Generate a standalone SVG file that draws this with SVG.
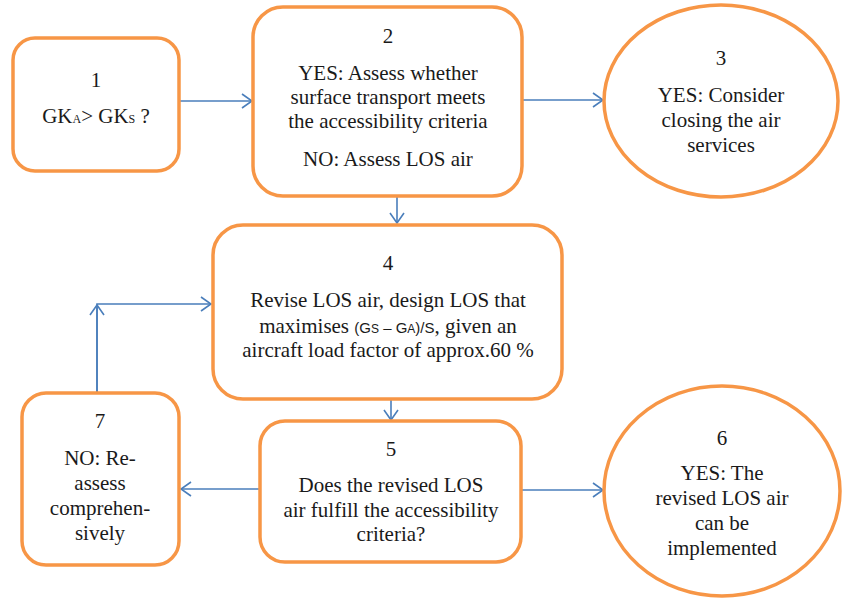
<svg xmlns="http://www.w3.org/2000/svg" width="842" height="599" viewBox="0 0 842 599">
<style>
.node{fill:#fff;stroke:#F79646;stroke-width:3.5}
.t{font-family:'Liberation Serif','Times New Roman',serif;font-size:21px;fill:#1a1a1a;text-anchor:middle}
.s{font-family:'Liberation Sans','Open Sans',Arial,sans-serif;font-size:15px}
.sub{font-size:12px}
.c{fill:none;stroke:#4A7EBB;stroke-width:1.6}
</style>
<defs>
<marker id="ah" markerUnits="userSpaceOnUse" viewBox="0 0 12 16" refX="11" refY="8" markerWidth="12" markerHeight="16" orient="auto">
<path d="M1,1 L11,8 L1,15" fill="none" stroke="#4A7EBB" stroke-width="1.6"/>
</marker>
</defs>
<g id="connectors">
<line class="c" x1="179" y1="101" x2="252" y2="101" marker-end="url(#ah)"/>
<line class="c" x1="522" y1="100" x2="603" y2="100" marker-end="url(#ah)"/>
<line class="c" x1="397" y1="196" x2="397" y2="223" marker-end="url(#ah)"/>
<line class="c" x1="391" y1="399" x2="391" y2="420" marker-end="url(#ah)"/>
<line class="c" x1="521" y1="490" x2="603" y2="490" marker-end="url(#ah)"/>
<line class="c" x1="260" y1="489" x2="181" y2="489" marker-end="url(#ah)"/>
<polyline class="c" points="97,393 97,304 211,304" marker-end="url(#ah)"/>
<line class="c" x1="97" y1="393" x2="97" y2="305" marker-end="url(#ah)"/>
</g>
<g id="node1">
<rect class="node" x="13" y="38" width="166" height="133" rx="22"/>
<text class="t" x="96" y="87">1</text>
<text class="t" x="96" y="123">GK<tspan class="sub">A</tspan>&gt; GK<tspan class="sub">S</tspan> ?</text>
</g>
<g id="node2">
<rect class="node" x="253" y="7" width="269" height="189" rx="30"/>
<text class="t" x="388" y="43">2</text>
<text class="t" x="388" y="80">YES: Assess whether</text>
<text class="t" x="388" y="104">surface transport meets</text>
<text class="t" x="388" y="128">the accessibility criteria</text>
<text class="t" x="388" y="166">NO: Assess LOS air</text>
</g>
<g id="node3">
<ellipse class="node" cx="721" cy="101" rx="117" ry="96"/>
<text class="t" x="721" y="65">3</text>
<text class="t" x="721" y="102">YES: Consider</text>
<text class="t" x="721" y="127">closing the air</text>
<text class="t" x="721" y="152">services</text>
</g>
<g id="node4">
<rect class="node" x="213" y="225" width="349" height="174" rx="30"/>
<text class="t" x="388" y="270">4</text>
<text class="t" x="388" y="307">Revise LOS air, design LOS that</text>
<text class="t" x="388" y="333">maximises <tspan class="s">(G<tspan class="sub">S</tspan> – G<tspan class="sub">A</tspan>)/S</tspan>, given an</text>
<text class="t" x="388" y="357">aircraft load factor of approx.60 %</text>
</g>
<g id="node5">
<rect class="node" x="260" y="421" width="261" height="141" rx="25"/>
<text class="t" x="391" y="456">5</text>
<text class="t" x="391" y="492">Does the revised LOS</text>
<text class="t" x="391" y="517">air fulfill the accessibility</text>
<text class="t" x="391" y="541">criteria?</text>
</g>
<g id="node6">
<ellipse class="node" cx="722" cy="491" rx="118" ry="105"/>
<text class="t" x="722" y="445">6</text>
<text class="t" x="722" y="480">YES: The</text>
<text class="t" x="722" y="505">revised LOS air</text>
<text class="t" x="722" y="530">can be</text>
<text class="t" x="722" y="555">implemented</text>
</g>
<g id="node7">
<rect class="node" x="22" y="393" width="157" height="172" rx="24"/>
<text class="t" x="100" y="428">7</text>
<text class="t" x="100" y="465">NO: Re-</text>
<text class="t" x="100" y="490">assess</text>
<text class="t" x="100" y="515">comprehen-</text>
<text class="t" x="100" y="540">sively</text>
</g>
</svg>
